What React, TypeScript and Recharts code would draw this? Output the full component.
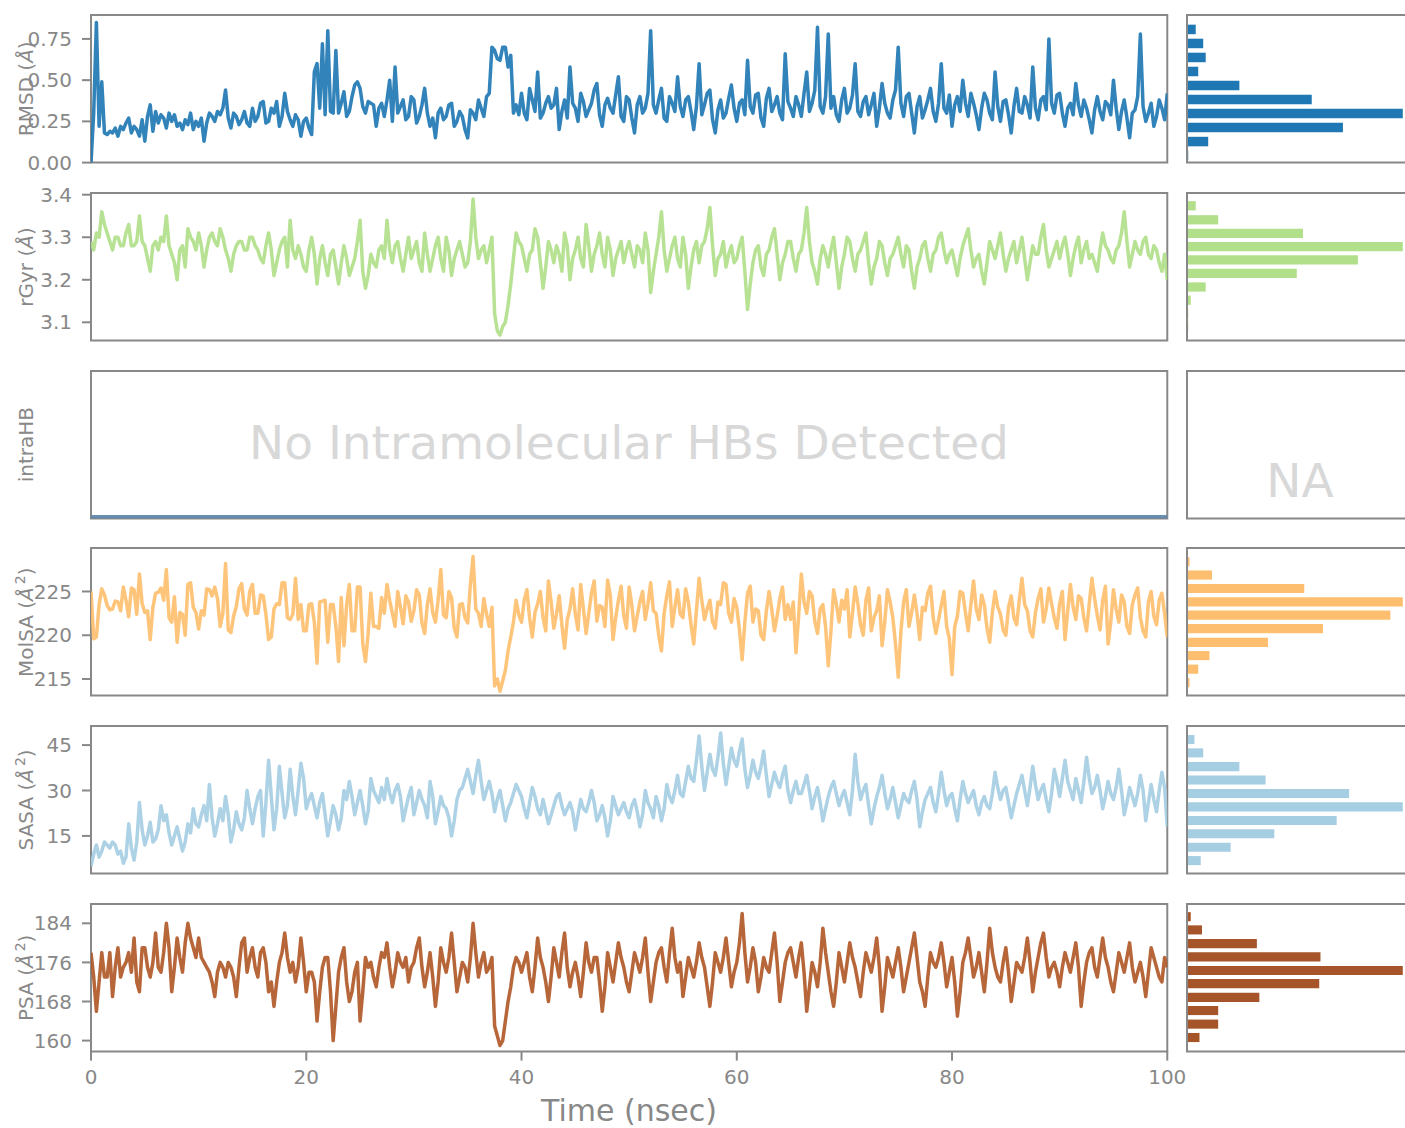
import React from 'react';
import { LineChart, Line, XAxis, YAxis, ReferenceArea, ComposedChart } from 'recharts';

// ---------- DATA ----------
const TIME = Array.from({ length: 401 }, (_, i) => i * 0.25); // ns sampling grid
const X_TICKS = [0, 20, 40, 60, 80, 100];

const RMSD = [
  0.00, 0.30, 0.85, 0.22, 0.49, 0.18, 0.17, 0.19, 0.18, 0.21, 0.16, 0.22, 0.20, 0.24, 0.27, 0.18, 0.22, 0.20, 0.16, 0.26,
  0.13, 0.28, 0.35, 0.19, 0.31, 0.24, 0.29, 0.27, 0.21, 0.30, 0.25, 0.29, 0.22, 0.24, 0.20, 0.26, 0.23, 0.30, 0.20, 0.25,
  0.22, 0.27, 0.13, 0.24, 0.30, 0.28, 0.25, 0.31, 0.29, 0.33, 0.44, 0.27, 0.21, 0.30, 0.28, 0.23, 0.26, 0.31, 0.24, 0.22,
  0.33, 0.25, 0.28, 0.36, 0.37, 0.24, 0.25, 0.33, 0.30, 0.37, 0.22, 0.28, 0.42, 0.31, 0.26, 0.22, 0.29, 0.26, 0.16, 0.25,
  0.27, 0.21, 0.17, 0.55, 0.60, 0.33, 0.72, 0.29, 0.80, 0.31, 0.30, 0.68, 0.30, 0.36, 0.43, 0.28, 0.31, 0.40, 0.47, 0.49,
  0.45, 0.34, 0.30, 0.37, 0.36, 0.35, 0.22, 0.33, 0.36, 0.28, 0.38, 0.50, 0.25, 0.58, 0.30, 0.34, 0.38, 0.26, 0.28, 0.40,
  0.38, 0.24, 0.28, 0.35, 0.45, 0.30, 0.22, 0.27, 0.15, 0.30, 0.33, 0.26, 0.28, 0.35, 0.36, 0.22, 0.25, 0.31, 0.28, 0.20,
  0.15, 0.32, 0.30, 0.26, 0.38, 0.33, 0.28, 0.40, 0.42, 0.70, 0.68, 0.63, 0.62, 0.70, 0.70, 0.58, 0.65, 0.30, 0.35, 0.29,
  0.42, 0.30, 0.26, 0.45, 0.38, 0.31, 0.55, 0.27, 0.30, 0.36, 0.40, 0.33, 0.35, 0.45, 0.20, 0.31, 0.38, 0.27, 0.58, 0.36,
  0.33, 0.25, 0.42, 0.37, 0.28, 0.32, 0.36, 0.44, 0.48, 0.29, 0.22, 0.35, 0.39, 0.33, 0.30, 0.41, 0.52, 0.28, 0.25, 0.40,
  0.38, 0.27, 0.18, 0.35, 0.40, 0.30, 0.33, 0.42, 0.80, 0.35, 0.30, 0.38, 0.45, 0.27, 0.25, 0.40, 0.36, 0.31, 0.52, 0.34,
  0.28, 0.38, 0.40, 0.31, 0.20, 0.34, 0.60, 0.29, 0.35, 0.42, 0.44, 0.26, 0.18, 0.32, 0.38, 0.27, 0.30, 0.39, 0.47, 0.33,
  0.25, 0.36, 0.38, 0.29, 0.62, 0.34, 0.30, 0.41, 0.42, 0.27, 0.22, 0.39, 0.45, 0.31, 0.35, 0.40, 0.30, 0.26, 0.66, 0.37,
  0.33, 0.28, 0.40, 0.35, 0.28, 0.42, 0.55, 0.31, 0.36, 0.44, 0.82, 0.34, 0.30, 0.40, 0.78, 0.33, 0.40, 0.29, 0.25, 0.38,
  0.45, 0.30, 0.33, 0.41, 0.60, 0.31, 0.28, 0.37, 0.40, 0.29, 0.35, 0.42, 0.22, 0.33, 0.48, 0.36, 0.30, 0.27, 0.38, 0.44,
  0.70, 0.36, 0.28, 0.40, 0.42, 0.30, 0.18, 0.34, 0.40, 0.27, 0.32, 0.38, 0.45, 0.31, 0.25, 0.36, 0.60, 0.33, 0.30, 0.41,
  0.22, 0.35, 0.40, 0.31, 0.50, 0.36, 0.28, 0.42, 0.36, 0.29, 0.20, 0.33, 0.42, 0.38, 0.30, 0.26, 0.55, 0.34, 0.25, 0.37,
  0.38, 0.29, 0.18, 0.34, 0.45, 0.31, 0.30, 0.40, 0.35, 0.27, 0.58, 0.33, 0.26, 0.38, 0.40, 0.32, 0.75, 0.36, 0.30, 0.41,
  0.42, 0.30, 0.22, 0.33, 0.36, 0.29, 0.48, 0.35, 0.28, 0.38, 0.33, 0.26, 0.18, 0.32, 0.40, 0.31, 0.26, 0.37, 0.35, 0.29,
  0.50, 0.33, 0.20, 0.31, 0.38, 0.27, 0.15, 0.30, 0.32, 0.40, 0.78, 0.34, 0.25, 0.30, 0.36, 0.22, 0.28, 0.38, 0.33, 0.26,
  0.42,
];

const RGYR = [
  3.29, 3.27, 3.31, 3.30, 3.36, 3.33, 3.31, 3.29, 3.27, 3.30, 3.30, 3.28, 3.28, 3.31, 3.33, 3.28, 3.28, 3.29, 3.35, 3.29,
  3.28, 3.25, 3.22, 3.28, 3.29, 3.27, 3.30, 3.29, 3.35, 3.28, 3.26, 3.24, 3.20, 3.27, 3.28, 3.23, 3.32, 3.30, 3.29, 3.27,
  3.31, 3.28, 3.23, 3.27, 3.30, 3.31, 3.29, 3.28, 3.32, 3.30, 3.27, 3.25, 3.22, 3.26, 3.28, 3.29, 3.29, 3.27, 3.27, 3.30,
  3.30, 3.28, 3.27, 3.25, 3.24, 3.28, 3.31, 3.27, 3.21, 3.24, 3.27, 3.29, 3.30, 3.23, 3.34, 3.27, 3.25, 3.28, 3.26, 3.23,
  3.22, 3.27, 3.30, 3.26, 3.19, 3.25, 3.28, 3.24, 3.21, 3.26, 3.27, 3.23, 3.19, 3.24, 3.28, 3.25, 3.21, 3.23, 3.25, 3.29,
  3.34, 3.22, 3.18, 3.21, 3.26, 3.24, 3.23, 3.27, 3.28, 3.25, 3.34, 3.27, 3.24, 3.28, 3.29, 3.25, 3.22, 3.26, 3.30, 3.25,
  3.27, 3.29, 3.24, 3.22, 3.31, 3.26, 3.22, 3.25, 3.28, 3.30, 3.25, 3.22, 3.30, 3.27, 3.21, 3.25, 3.27, 3.29, 3.26, 3.23,
  3.24, 3.29, 3.39, 3.30, 3.25, 3.27, 3.28, 3.24, 3.27, 3.30, 3.12, 3.08, 3.07, 3.09, 3.10, 3.14, 3.19, 3.25, 3.31, 3.29,
  3.28, 3.25, 3.22, 3.26, 3.27, 3.32, 3.30, 3.24, 3.18, 3.23, 3.29, 3.27, 3.24, 3.28, 3.26, 3.22, 3.31, 3.28, 3.20, 3.25,
  3.27, 3.30, 3.25, 3.23, 3.33, 3.28, 3.22, 3.26, 3.28, 3.31, 3.26, 3.23, 3.30, 3.27, 3.21, 3.25, 3.27, 3.29, 3.24, 3.27,
  3.29, 3.26, 3.23, 3.28, 3.27, 3.24, 3.31, 3.27, 3.17, 3.22, 3.26, 3.30, 3.36, 3.27, 3.22, 3.25, 3.28, 3.30, 3.25, 3.23,
  3.30, 3.26, 3.18, 3.23, 3.27, 3.29, 3.24, 3.28, 3.29, 3.32, 3.37, 3.28, 3.21, 3.25, 3.26, 3.29, 3.23, 3.26, 3.28, 3.24,
  3.25, 3.28, 3.30, 3.22, 3.13, 3.19, 3.24, 3.27, 3.28, 3.23, 3.21, 3.26, 3.27, 3.30, 3.32, 3.26, 3.20, 3.24, 3.26, 3.29,
  3.29, 3.25, 3.22, 3.26, 3.27, 3.31, 3.37, 3.29, 3.24, 3.22, 3.19, 3.25, 3.28, 3.26, 3.23, 3.27, 3.30, 3.24, 3.18, 3.23,
  3.26, 3.30, 3.29, 3.25, 3.22, 3.26, 3.27, 3.29, 3.31, 3.24, 3.19, 3.23, 3.25, 3.29, 3.28, 3.24, 3.21, 3.25, 3.26, 3.28,
  3.30, 3.26, 3.23, 3.28, 3.27, 3.22, 3.18, 3.23, 3.25, 3.28, 3.29, 3.25, 3.22, 3.26, 3.27, 3.30, 3.31, 3.27, 3.24, 3.26,
  3.27, 3.24, 3.21, 3.25, 3.28, 3.30, 3.32, 3.27, 3.23, 3.25, 3.26, 3.22, 3.19, 3.24, 3.29, 3.27, 3.25, 3.28, 3.31, 3.26,
  3.22, 3.25, 3.27, 3.29, 3.24, 3.27, 3.30, 3.25, 3.20, 3.24, 3.28, 3.26, 3.26, 3.30, 3.33, 3.27, 3.23, 3.25, 3.27, 3.29,
  3.25, 3.28, 3.30, 3.26, 3.21, 3.25, 3.28, 3.30, 3.24, 3.27, 3.29, 3.25, 3.26, 3.24, 3.22, 3.27, 3.31, 3.28, 3.27, 3.25,
  3.24, 3.27, 3.28, 3.31, 3.36, 3.29, 3.23, 3.26, 3.29, 3.27, 3.26, 3.29, 3.30, 3.26, 3.25, 3.28, 3.27, 3.24, 3.22, 3.26,
  3.20,
];

const INTRAHB_TIME = [0, 100];
const INTRAHB = [0, 0];

const MOLSA = [
  225.0, 219.6, 219.8, 223.5, 225.3, 224.6, 223.4, 222.9, 223.0, 223.9, 223.8, 222.8, 225.5, 224.0, 222.1, 225.4, 225.2, 222.4, 227.0, 223.6,
  222.6, 222.8, 219.5, 223.2, 224.8, 224.9, 225.4, 224.0, 227.5, 222.0, 221.5, 224.4, 219.2, 222.6, 222.4, 220.0, 225.8, 226.0, 223.2, 222.6,
  220.7, 222.8, 222.3, 225.3, 225.2, 224.5, 225.5, 224.2, 221.0, 222.5, 228.2, 220.6, 220.3, 222.2, 223.3, 225.3, 225.9, 223.0, 222.3, 225.0,
  225.8, 222.5, 222.5, 224.6, 224.5, 222.4, 219.5, 219.8, 223.0, 223.6, 223.5, 226.0, 226.0, 222.0, 221.8, 222.4, 226.5, 221.8, 223.5, 220.5,
  220.5, 223.5, 223.6, 221.5, 216.8, 223.8, 223.9, 224.0, 219.2, 223.5, 223.5, 221.0, 217.0, 224.3, 218.8, 223.5, 225.8, 220.5, 220.5, 225.5,
  225.5, 219.0, 217.0, 220.2, 224.8, 221.0, 221.0, 220.8, 224.3, 222.5, 225.8, 224.0, 222.5, 221.0, 225.0, 223.2, 221.3, 224.5, 223.8, 221.6,
  222.8, 225.2, 224.6, 221.4, 220.2, 223.5, 225.3, 222.6, 221.5, 224.0, 227.5, 222.3, 222.0, 225.0, 224.3, 220.8, 219.8, 223.5, 223.6, 222.0,
  221.4, 225.8, 229.0, 223.0, 222.5, 221.0, 224.2, 222.4, 221.0, 223.2, 214.2, 215.0, 213.6, 214.8, 216.0, 218.2, 219.8, 221.5, 224.0, 222.3,
  221.5, 224.0, 225.2, 222.0, 219.8, 222.6, 223.6, 225.0, 222.0, 220.5, 226.2, 223.8, 220.8, 222.4, 224.5, 221.2, 218.5, 221.8, 223.0, 225.3,
  222.4, 220.6, 225.8, 223.0, 220.2, 222.5, 224.8, 226.2, 221.6, 223.4, 223.2, 221.0, 226.3, 224.5, 219.5, 222.0, 224.0, 225.6, 222.2, 220.8,
  225.5, 223.4, 220.5, 222.2, 223.8, 225.0, 221.8, 223.6, 226.0, 222.8, 222.5, 220.0, 218.2, 222.5, 224.5, 226.1, 221.0, 223.2, 225.2, 222.4,
  222.0, 225.3, 223.8, 221.2, 219.0, 222.8, 226.5, 224.0, 221.8, 223.0, 224.0, 221.5, 220.8, 223.8, 223.5, 226.0, 225.8, 222.5, 221.5, 224.2,
  223.2, 220.6, 217.2, 221.5, 224.8, 225.6, 221.5, 223.0, 222.8, 220.0, 219.5, 222.8, 225.0, 223.0, 220.5, 222.2, 224.2, 225.5, 221.8, 223.5,
  221.8, 223.8, 218.0, 222.2, 227.0, 223.8, 222.5, 225.0, 224.5, 221.6, 220.2, 223.0, 223.5, 221.0, 216.5, 220.5, 225.2, 223.6, 221.5, 224.0,
  223.0, 225.2, 219.8, 222.5, 225.5, 223.6, 221.2, 220.0, 224.0, 225.4, 220.5, 222.0, 222.8, 224.5, 218.8, 221.5, 225.2, 223.8, 222.0, 219.0,
  215.2, 220.4, 223.8, 225.2, 221.0, 222.6, 224.6, 222.5, 219.5, 223.2, 222.8, 224.8, 225.6, 222.0, 220.2, 221.8, 223.4, 225.0, 221.0, 219.6,
  215.5, 221.0, 222.2, 225.0, 224.8, 222.6, 220.5, 223.5, 226.2, 223.0, 221.8, 224.6, 223.5, 220.8, 219.2, 222.6, 225.0, 223.2, 222.4, 220.6,
  220.0, 223.2, 224.5, 222.0, 221.2, 224.0, 226.5, 223.5, 222.8, 220.5, 219.8, 222.6, 224.2, 225.3, 221.5, 223.0, 225.4, 223.6, 222.0, 220.8,
  223.6, 225.0, 219.5, 222.8, 225.8, 223.2, 221.8, 224.5, 224.2, 222.0, 220.5, 223.6, 226.5, 224.2, 222.2, 220.6, 224.0, 225.6, 219.0, 221.5,
  225.2, 223.0, 221.5, 224.6, 223.8, 221.0, 220.2, 223.5, 224.6, 225.4, 222.0, 220.5, 219.8, 223.8, 225.0, 222.2, 221.2, 224.0, 224.8, 222.5,
  219.8,
];

const SASA = [
  5, 9, 12, 8, 10, 13, 12, 11, 13, 12, 9, 10, 6, 8, 19, 11, 7, 13, 26, 17,
  12, 15, 19.5, 13, 14, 17, 25, 20, 22, 16, 12, 15, 18, 14, 10, 13, 19, 16, 24, 19,
  18, 22, 25, 20, 32, 21, 15, 19, 24, 20, 28, 22, 13, 17, 23, 19, 17, 21, 30, 24,
  19, 24, 28, 30, 15, 26, 40, 28, 17, 24, 38, 29, 21, 25, 37, 28, 22, 30, 39, 34,
  24, 27, 29, 25, 21, 26, 29, 22, 15, 20, 25, 22, 17, 21, 30, 27, 33, 28, 22, 26,
  30, 25, 19, 23, 34, 30, 28, 26, 31, 27, 34, 29, 26, 30, 32, 28, 20, 24, 28, 31,
  22, 26, 30, 27, 25, 21, 33, 28, 19, 23, 28, 25, 24, 21, 15, 20, 27, 30, 31, 34,
  37, 33, 29, 35, 40, 33, 27, 30, 33, 29, 23, 27, 30, 25, 20, 24, 26, 29, 32, 30,
  28, 24, 21, 26, 31, 28, 24, 22, 27, 23, 19, 22, 25, 28, 29, 25, 22, 24, 26, 23,
  17, 22, 27, 24, 23, 26, 30, 26, 20, 22, 25, 21, 15, 20, 28, 25, 22, 24, 26, 23,
  21, 25, 27, 23, 18, 22, 30, 26, 24, 21, 28, 25, 20, 24, 32, 28, 26, 30, 35, 29,
  28, 33, 38, 34, 33, 40, 48, 38, 30, 36, 42, 37, 35, 41, 49, 39, 32, 38, 44, 40,
  38, 43, 47, 37, 31, 35, 40, 36, 34, 38, 43, 35, 28, 32, 36, 33, 31, 35, 38, 30,
  26, 30, 33, 29, 29, 32, 35, 30, 24, 28, 31, 26, 20, 24, 28, 31, 33, 29, 25, 28,
  30, 26, 22, 30, 42, 33, 27, 30, 32, 25, 19, 24, 28, 31, 35, 29, 24, 27, 31, 26,
  21, 25, 29, 27, 26, 30, 33, 27, 18, 23, 27, 29, 31, 26, 23, 29, 36, 30, 25, 28,
  29, 24, 20, 27, 33, 29, 26, 28, 30, 25, 22, 26, 28, 25, 24, 29, 36, 31, 27, 30,
  31, 26, 21, 25, 29, 32, 35, 30, 25, 31, 38, 32, 27, 30, 32, 27, 23, 29, 37, 33,
  28, 34, 40, 33, 30, 27, 34, 30, 26, 33, 41, 34, 29, 31, 35, 30, 24, 28, 33, 29,
  27, 31, 37, 30, 22, 26, 31, 28, 25, 29, 35, 30, 20, 26, 32, 27, 23, 30, 36, 31,
  18,
];

const PSA = [
  178, 173, 166, 172, 178, 173, 173, 178, 169, 175, 179, 173, 175, 176, 178, 174, 181, 172, 170, 179,
  179, 175, 173, 176, 182, 175, 174, 178, 184, 179, 170, 175, 181, 177, 174, 180, 184, 181, 179, 177,
  181, 177, 176, 175, 174, 172, 169, 174, 176, 175, 173, 176, 175, 173, 169, 175, 180, 181, 174, 177,
  179, 175, 173, 178, 179, 176, 170, 172, 167, 172, 176, 178, 182, 177, 174, 176, 172, 175, 181, 176,
  170, 174, 174, 172, 164, 170, 175, 177, 177, 170, 160, 167, 174, 177, 179, 172, 168, 170, 174, 176,
  164, 170, 177, 175, 176, 173, 171, 175, 178, 177, 180, 175, 171, 174, 178, 176, 175, 177, 172, 175,
  176, 179, 181, 175, 171, 174, 178, 173, 167, 172, 179, 176, 174, 177, 182, 176, 170, 173, 176, 175,
  172, 177, 184, 178, 173, 176, 178, 174, 175, 177, 163, 161, 159, 160, 164, 168, 171, 175, 177, 176,
  174, 176, 178, 173, 170, 175, 181, 177, 175, 172, 168, 173, 179, 176, 173, 178, 182, 175, 171, 174,
  176, 173, 169, 174, 180, 176, 174, 177, 177, 172, 166, 171, 178, 175, 172, 176, 180, 177, 175, 172,
  170, 174, 178, 176, 174, 177, 181, 174, 168, 172, 176, 178, 179, 175, 172, 178, 183, 177, 174, 176,
  169, 173, 177, 175, 173, 176, 180, 177, 175, 171, 167, 172, 178, 176, 174, 177, 181, 176, 171, 174,
  176, 180, 186, 178, 172, 175, 179, 176, 170, 173, 177, 175, 174, 178, 182, 176, 168, 172, 176, 178,
  179, 176, 173, 177, 180, 174, 166, 171, 176, 174, 171, 176, 183, 178, 174, 170, 167, 172, 178, 175,
  172, 176, 180, 177, 175, 172, 169, 174, 178, 176, 174, 177, 181, 175, 166, 171, 177, 175, 173, 176,
  179, 175, 170, 173, 176, 179, 182, 177, 172, 170, 167, 173, 178, 176, 175, 177, 180, 176, 171, 174,
  177, 172, 165, 170, 176, 178, 181, 177, 173, 175, 178, 174, 170, 176, 183, 178, 175, 173, 172, 176,
  179, 174, 168, 172, 176, 175, 174, 177, 181, 176, 170, 174, 177, 180, 182, 177, 173, 175, 176, 174,
  171, 175, 178, 176, 174, 177, 180, 175, 167, 172, 176, 178, 179, 175, 173, 177, 181, 177, 175, 172,
  170, 174, 178, 176, 174, 177, 180, 175, 172, 174, 176, 173, 169, 174, 179, 177, 175, 173, 172, 177,
  175,
];

// histogram bins (centres) and counts
const RMSD_BINS = [0.0425, 0.1275, 0.2125, 0.2975, 0.3825, 0.4675, 0.5525, 0.6375, 0.7225, 0.8075];
const RMSD_COUNTS = [1, 17, 125, 173, 100, 42, 9, 15, 13, 7];
const RGYR_BINS = [3.089, 3.121, 3.152, 3.183, 3.215, 3.247, 3.278, 3.309, 3.341, 3.374];
const RGYR_COUNTS = [1, 1, 3, 15, 88, 137, 173, 93, 25, 7];
const MOLSA_BINS = [214.58, 216.12, 217.67, 219.18, 220.75, 222.3, 223.82, 225.34, 226.88, 228.4];
const MOLSA_COUNTS = [2, 9, 18, 65, 109, 163, 173, 94, 20, 2];
const SASA_BINS = [6.85, 11.25, 15.72, 20.12, 24.59, 29.02, 33.49, 37.89, 42.42, 46.82];
const SASA_COUNTS = [11, 35, 70, 120, 173, 130, 63, 42, 13, 6];
const PSA_BINS = [160.63, 163.37, 166.15, 168.85, 171.65, 174.33, 177.13, 179.85, 182.65, 185.35];
const PSA_COUNTS = [10, 25, 25, 58, 106, 173, 107, 56, 12, 3];

const RMSD_TICKS = [0, 0.25, 0.5, 0.75];
const RGYR_TICKS = [3.1, 3.2, 3.3, 3.4];
const INTRAHB_TICKS = [0, 0.5, 1];
const MOLSA_TICKS = [215, 220, 225];
const SASA_TICKS = [15, 30, 45];
const PSA_TICKS = [160, 168, 176, 184];

// ---------- STYLE ----------
const GRAY = '#888888';
const FONT = 'DejaVu Sans';
const PANEL_H = 147.6;
const MAIN_W = 1200;
const PLOT_RIGHT = 1167.3;
const HIST_LEFT = 1186.7;
const HIST_RIGHT = 1412;
const HIST_MAXBAR = 1402.5;
const TOPS = [15, 193.2, 370.9, 548.4, 726.1, 904];

const rows = (times: number[], vals: number[]) => times.map((t, i) => ({ t, v: vals[i] }));

type MainProps = {
  data: { t: number; v: number }[];
  color: string;
  domain: [number, number];
  ticks: number[];
  top: number;
  xLabels?: boolean;
  fmt?: (v: number) => string;
  showYLabels?: boolean;
};

function MainPanel({ data, color, domain, ticks, top, xLabels, fmt, showYLabels = true }: MainProps) {
  return (
    <div style={{ position: 'absolute', left: 0, top: top - 10 }}>
      <LineChart
        width={MAIN_W}
        height={10 + PANEL_H + 40}
        data={data}
        margin={{ top: 10, right: MAIN_W - PLOT_RIGHT, bottom: 0, left: 0 }}
      >
        <XAxis
          dataKey="t"
          type="number"
          domain={[0, 100]}
          ticks={X_TICKS}
          allowDataOverflow
          interval={0}
          height={40}
          axisLine={false}
          tickLine={{ stroke: GRAY, strokeWidth: 2 }}
          tickSize={9}
          tickMargin={9}
          tick={xLabels ? { fill: GRAY, fontSize: 20, fontFamily: FONT } : false}
        />
        <YAxis
          type="number"
          domain={domain}
          ticks={ticks}
          allowDataOverflow
          interval={0}
          width={91}
          axisLine={false}
          tickLine={{ stroke: GRAY, strokeWidth: 2 }}
          tickSize={9}
          tickMargin={10}
          tick={showYLabels ? { fill: GRAY, fontSize: 20, fontFamily: FONT } : false}
          tickFormatter={fmt}
        />
        <ReferenceArea
          x1={0}
          x2={100}
          y1={domain[0]}
          y2={domain[1]}
          fill="none"
          stroke={GRAY}
          strokeWidth={2}
          ifOverflow="visible"
        />
        <Line
          dataKey="v"
          type="linear"
          stroke={color}
          strokeOpacity={0.92}
          strokeWidth={3.5}
          strokeLinejoin="round"
          dot={false}
          activeDot={false}
          isAnimationActive={false}
        />
      </LineChart>
    </div>
  );
}

type HistProps = {
  bins?: number[];
  counts?: number[];
  color?: string;
  domain: [number, number];
  ticks?: number[];
  top: number;
};

function HistPanel({ bins = [], counts = [], color = '#000', domain, ticks = [], top }: HistProps) {
  const maxCount = counts.length ? Math.max(...counts) : 1;
  const xMax = (maxCount * (HIST_RIGHT - HIST_LEFT)) / (HIST_MAXBAR - HIST_LEFT);
  const binW = bins.length > 1 ? bins[1] - bins[0] : 1;
  const data = bins.map((c, i) => ({ c, n: counts[i] }));
  return (
    <div style={{ position: 'absolute', left: HIST_LEFT - 20, top: top - 10 }}>
      <ComposedChart
        width={HIST_RIGHT - HIST_LEFT + 20}
        height={10 + PANEL_H + 2}
        data={data}
        margin={{ top: 10, right: 0, bottom: 2, left: 0 }}
      >
        <XAxis type="number" dataKey="n" domain={[0, xMax]} allowDataOverflow hide height={0} />
        <YAxis
          type="number"
          domain={domain}
          ticks={ticks}
          allowDataOverflow
          interval={0}
          width={20}
          axisLine={false}
          tickLine={ticks.length ? { stroke: GRAY, strokeWidth: 2 } : false}
          tickSize={10}
          tick={false}
        />
        {data.map((d, i) => (
          <ReferenceArea
            key={i}
            x1={0}
            x2={d.n}
            y1={d.c - binW * 0.34}
            y2={d.c + binW * 0.34}
            fill={color}
            fillOpacity={1}
            stroke="none"
            ifOverflow="visible"
          />
        ))}
        <ReferenceArea
          x1={0}
          x2={xMax}
          y1={domain[0]}
          y2={domain[1]}
          fill="none"
          stroke={GRAY}
          strokeWidth={2}
          ifOverflow="visible"
        />
      </ComposedChart>
    </div>
  );
}

function YLabel({ cy, children }: { cy: number; children: React.ReactNode }) {
  return (
    <text
      transform={`translate(33, ${cy}) rotate(-90)`}
      textAnchor="middle"
      fontSize={20}
      fontFamily={FONT}
      fill={GRAY}
    >
      {children}
    </text>
  );
}

const Ang = () => <tspan fontStyle="italic">Å</tspan>;
const AngSq = () => (
  <>
    <tspan fontStyle="italic">Å</tspan>
    <tspan fontSize={14} dy={-8} dx={3}>2</tspan>
    <tspan dy={8}>)</tspan>
  </>
);

export default function App() {
  const mid = (i: number) => TOPS[i] + PANEL_H / 2;
  return (
    <div style={{ position: 'absolute', left: 0, top: 0, width: 1405, height: 1128, background: '#fff', overflow: 'hidden' }}>
      <MainPanel data={rows(TIME, RMSD)} color="#1f78b4" domain={[0, 0.895]} ticks={RMSD_TICKS} top={TOPS[0]} fmt={(v) => v.toFixed(2)} />
      <HistPanel bins={RMSD_BINS} counts={RMSD_COUNTS} color="#1f78b4" domain={[0, 0.895]} ticks={RMSD_TICKS} top={TOPS[0]} />

      <MainPanel data={rows(TIME, RGYR)} color="#b2df8a" domain={[3.057, 3.404]} ticks={RGYR_TICKS} top={TOPS[1]} fmt={(v) => v.toFixed(1)} />
      <HistPanel bins={RGYR_BINS} counts={RGYR_COUNTS} color="#b2df8a" domain={[3.057, 3.404]} ticks={RGYR_TICKS} top={TOPS[1]} />

      <MainPanel data={rows(INTRAHB_TIME, INTRAHB)} color="#5b85aa" domain={[-0.012, 1]} ticks={INTRAHB_TICKS} top={TOPS[2]} showYLabels={false} />
      <HistPanel domain={[0, 1]} top={TOPS[2]} />

      <MainPanel data={rows(TIME, MOLSA)} color="#fdbf6f" domain={[213.1, 229.97]} ticks={MOLSA_TICKS} top={TOPS[3]} fmt={(v) => String(Math.round(v))} />
      <HistPanel bins={MOLSA_BINS} counts={MOLSA_COUNTS} color="#fdbf6f" domain={[213.1, 229.97]} ticks={MOLSA_TICKS} top={TOPS[3]} />

      <MainPanel data={rows(TIME, SASA)} color="#a6cee3" domain={[2.56, 51.3]} ticks={SASA_TICKS} top={TOPS[4]} fmt={(v) => String(Math.round(v))} />
      <HistPanel bins={SASA_BINS} counts={SASA_COUNTS} color="#a6cee3" domain={[2.56, 51.3]} ticks={SASA_TICKS} top={TOPS[4]} />

      <MainPanel data={rows(TIME, PSA)} color="#b15928" domain={[157.75, 187.95]} ticks={PSA_TICKS} top={TOPS[5]} xLabels fmt={(v) => String(Math.round(v))} />
      <HistPanel bins={PSA_BINS} counts={PSA_COUNTS} color="#a6542a" domain={[157.75, 187.95]} ticks={PSA_TICKS} top={TOPS[5]} />

      <svg width={1405} height={1128} style={{ position: 'absolute', left: 0, top: 0, pointerEvents: 'none' }}>
        <YLabel cy={mid(0)}>RMSD (<Ang />)</YLabel>
        <YLabel cy={mid(1)}>rGyr (<Ang />)</YLabel>
        <YLabel cy={mid(2)}>intraHB</YLabel>
        <YLabel cy={mid(3)}>MolSA (<AngSq /></YLabel>
        <YLabel cy={mid(4)}>SASA (<AngSq /></YLabel>
        <YLabel cy={mid(5)}>PSA (<AngSq /></YLabel>
        <text x={629} y={459} textAnchor="middle" fontSize={47} fontFamily={FONT} fill="#d8d8d8">
          No Intramolecular HBs Detected
        </text>
        <text x={1300} y={497} textAnchor="middle" fontSize={47} fontFamily={FONT} fill="#d8d8d8">
          NA
        </text>
        <text x={629} y={1121} textAnchor="middle" fontSize={30} fontFamily={FONT} fill={GRAY}>
          Time (nsec)
        </text>
      </svg>
    </div>
  );
}
